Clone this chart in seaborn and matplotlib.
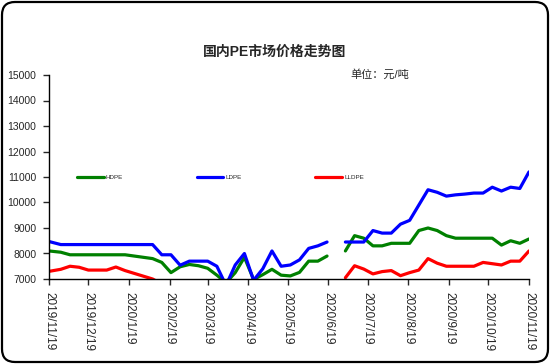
import numpy as np
import pandas as pd
import matplotlib
matplotlib.use("Agg")
import matplotlib.pyplot as plt
from matplotlib.patches import FancyBboxPatch
import seaborn as sns

nan = np.nan

# weekly quotes: 2019/11/19 then every Thursday from 2019/11/28 to 2020/11/19
dates = pd.DatetimeIndex(["2019-11-19"]).append(
    pd.date_range("2019-11-28", "2020-11-19", freq="7D"))

hdpe = [8100, 8050, 7950, 7950, 7950, 7950, 7950, 7950, 7950, 7900,
        7850, 7800, 7650, 7250, 7480, 7570, 7520, 7420, 7150, 6850,
        7250, 7850, 6980, 7170, 7380, 7150, 7120, 7260, 7700, 7700,
        7900, nan, 8100, 8700, 8600, 8300, 8300, 8400, 8400, 8400,
        8900, 9000, 8900, 8700, 8600, 8600, 8600, 8600, 8600, 8330,
        8500, 8400, 8570]
ldpe = [8470, 8350, 8350, 8350, 8350, 8350, 8350, 8350, 8350, 8350,
        8350, 8350, 7950, 7950, 7540, 7700, 7700, 7700, 7500, 6750,
        7550, 8000, 6950, 7400, 8100, 7500, 7550, 7750, 8200, 8300,
        8450, nan, 8450, 8450, 8450, 8900, 8800, 8800, 9150, 9300,
        9900, 10500, 10400, 10250, 10300, 10330, 10370, 10370, 10600, 10450,
        10600, 10550, 11200]
lldpe = [7300, 7380, 7500, 7460, 7350, 7350, 7350, 7470, 7330, 7220,
         7110, 7000, 6800, 6600, 6500, 6600, 6700, 6600, 6400, 6200,
         6000, 6100, 6300, 6200, 6300, 6400, 6500, 6600, 6700, 6800,
         6900, nan, 7050, 7520, 7390, 7200, 7290, 7330, 7130, 7250,
         7350, 7800, 7620, 7500, 7500, 7500, 7500, 7650, 7600, 7550,
         7700, 7700, 8100]

series_names = ["HDPE", "LDPE", "LLDPE"]
colors = ["#008000", "#0000FF", "#FF0000"]
tick_dates = ["2019-11-19", "2019-12-19", "2020-01-19", "2020-02-19",
              "2020-03-19", "2020-04-19", "2020-05-19", "2020-06-19",
              "2020-07-19", "2020-08-19", "2020-09-19", "2020-10-19",
              "2020-11-19"]
tick_labels = ["2019/11/19", "2019/12/19", "2020/1/19", "2020/2/19",
               "2020/3/19", "2020/4/19", "2020/5/19", "2020/6/19",
               "2020/7/19", "2020/8/19", "2020/9/19", "2020/10/19",
               "2020/11/19"]

# long table, one unit per unbroken run so the gaps stay open
frames = []
for name, vals in zip(series_names, [hdpe, ldpe, lldpe]):
    v = pd.Series(vals, dtype=float)
    seg = v.isna().cumsum()
    frames.append(pd.DataFrame({"date": dates, "price": v, "series": name,
                                "seg": seg}).dropna())
df = pd.concat(frames, ignore_index=True)

sns.set_style("ticks")
plt.rcParams["font.family"] = ["Liberation Sans", "Noto Sans CJK SC"]

fig = plt.figure(figsize=(5.5, 3.64), dpi=100)
ax = fig.add_axes([49 / 550, 1 - 279 / 364, 480 / 550, 204 / 364])

sns.lineplot(data=df, x="date", y="price", hue="series", units="seg",
             estimator=None, palette=colors, hue_order=series_names,
             linewidth=2.3, ax=ax)

ax.set_ylim(7000, 15000)
ax.set_yticks(range(7000, 15001, 1000))
ax.set_xlim(pd.Timestamp(tick_dates[0]), pd.Timestamp(tick_dates[-1]))
ax.set_xticks(pd.to_datetime(tick_dates))
ax.set_xticklabels(tick_labels, rotation=270, fontsize=8.5)
ax.tick_params(axis="y", labelsize=7.5, length=4, width=1, pad=5)
ax.tick_params(axis="x", length=4, width=1, pad=5)
ax.set_xlabel("")
ax.set_ylabel("")
for s in ["top", "right"]:
    ax.spines[s].set_visible(False)
for s in ["left", "bottom"]:
    ax.spines[s].set_linewidth(1)
    ax.spines[s].set_color("black")

handles, labels = ax.get_legend_handles_labels()
ax.legend(handles, labels, ncol=3, frameon=False, fontsize=4.5,
          loc="center left", bbox_to_anchor=(0.058, 0.5),
          borderaxespad=0, borderpad=0, handlelength=4.3,
          handletextpad=0.3, columnspacing=11.8)

fig.text(0.5, 1 - 52 / 364, "国内PE市场价格走势图", ha="center", va="center",
         fontsize=10, fontweight="bold")
fig.text(350 / 550, 1 - 74 / 364, "单位：元/吨", ha="left", va="center",
         fontsize=8)

frame = FancyBboxPatch((0.02, 0.02), 5.46, 3.6,
                       boxstyle="round,pad=0,rounding_size=0.13",
                       transform=fig.dpi_scale_trans, fill=False,
                       edgecolor="black", linewidth=1.6)
fig.patches.append(frame)

fig.savefig("out.png", dpi=100)
